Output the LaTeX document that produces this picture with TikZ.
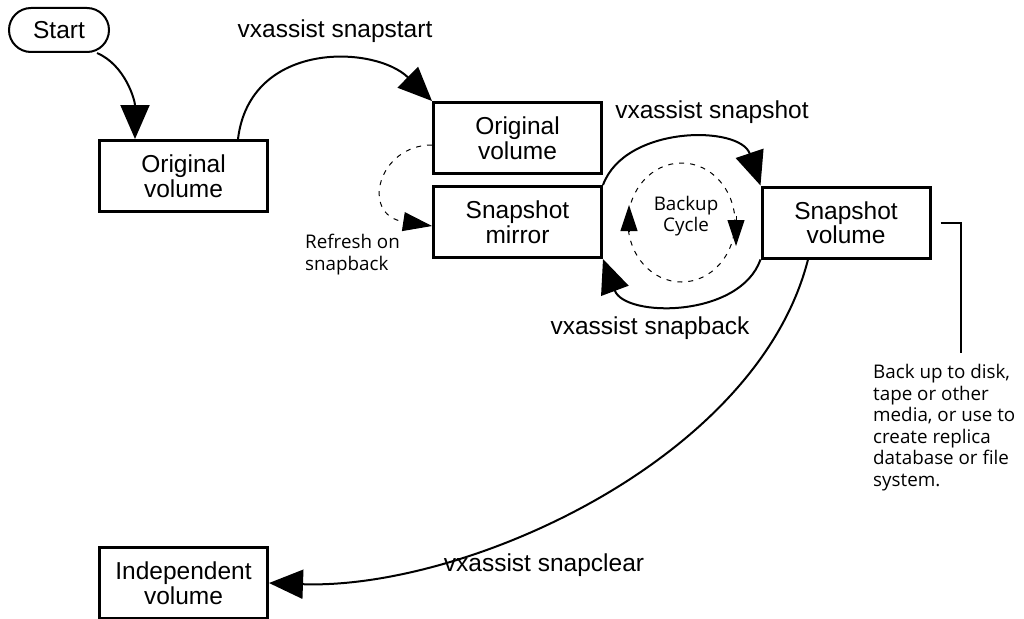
\documentclass[tikz,border=0pt]{standalone}
\usepackage{fontspec}
\setmainfont{Liberation Sans}
\newfontfamily\notefont{Open Sans}
\usetikzlibrary{arrows.meta}
\begin{document}
\begin{tikzpicture}[x=1pt,y=-1pt,
  box/.style={draw,line width=3pt,minimum width=168pt,minimum height=71pt,inner sep=0pt,align=center,font=\fontsize{24.5}{24.5}\selectfont},
  pill/.style={draw,line width=2pt,rounded corners=22pt,minimum width=100pt,minimum height=44pt,inner sep=0pt,font=\fontsize{24.5}{24.5}\selectfont},
  lbl/.style={font=\fontsize{24.5}{24.5}\selectfont,inner sep=0pt},
  note/.style={font=\notefont\fontsize{18.8}{21.6}\selectfont,inner sep=0pt,align=left},
  conn/.style={line width=2pt,-{Triangle[length=34pt 0 0,width=29pt 0 0]}},
  dconn/.style={line width=1pt,dash pattern=on 5pt off 6pt,-{Triangle[length=29pt 0 0,width=19pt 0 0]}},
  dline/.style={line width=1pt,dash pattern=on 5pt off 6pt},
  carrow/.style={line width=1pt,-{Triangle[length=26pt 0 0,width=17pt 0 0]}},
]
\fill[white] (0,0) rectangle (1024,618);
\path[use as bounding box] (0,0) rectangle (1024,618);
\clip (0,0) rectangle (1024,618);

% nodes
\node[pill] (start) at (59,30) {Start};
\node[box] (ov1) at (183.5,176) {Original\\volume};
\node[box] (ov2) at (517.5,138) {Original\\volume};
\node[box] (sm) at (517.5,222) {Snapshot\\mirror};
\node[box] (sv) at (846,222.5) {Snapshot\\volume};
\node[box] (iv) at (183.5,583) {Independent\\volume};

% labels
\node[lbl] (l1) at (335,31) {vxassist snapstart};
\node[lbl] (l2) at (712,112) {vxassist snapshot};
\node[lbl] (l3) at (650,328) {vxassist snapback};
\node[lbl] (l4) at (544,565) {vxassist snapclear};

\node[note,anchor=north west] (refresh) at (305,234) {Refresh on\\snapback};
\node[note,align=center] (bc) at (686,216) {Backup\\Cycle};
\node[note,anchor=north west] (note) at (873,364) {Back up to disk,\\tape or other\\media, or use to\\create replica\\database or file\\system.};

% connectors
\draw[conn] ([xshift=-13pt]start.south east) .. controls (125,65) and (135,100) .. ([xshift=37pt]ov1.north west);
\draw[conn] ([xshift=140pt]ov1.north west) .. controls (250,40) and (375,45) .. (ov2.north west);
\draw[conn] (sm.north east) .. controls (625,125) and (740,125) .. (sv.north west);
\draw[conn] (sv.south west) .. controls (740,318) and (625,318) .. (sm.south east);
\draw[conn] ([xshift=-38pt]sv.south) .. controls (757,460) and (465,590) .. (iv.east);
\draw[dconn] ([yshift=-7pt]ov2.west) .. controls (378,145) and (360,215) .. ([yshift=-4pt]sm.west);

% backup cycle
\draw[dline] (681.5,222.5) ellipse [x radius=53.5, y radius=59.5];
\coordinate (cla) at (629,232);
\coordinate (clb) at (629,205);
\coordinate (cra) at (736,216);
\coordinate (crb) at (736,246);
\draw[carrow] (cla) -- (clb);
\draw[carrow] (cra) -- (crb);

% bracket
\coordinate (brk) at (961,353);
\draw[line width=2pt] ([xshift=9pt]sv.east) -| (brk);
\end{tikzpicture}
\end{document}
